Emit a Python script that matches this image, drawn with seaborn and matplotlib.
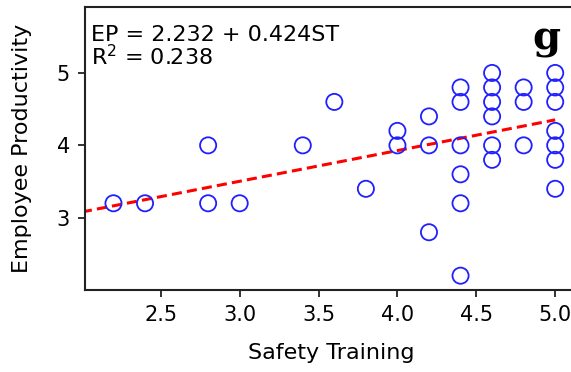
import numpy as np
import pandas as pd
import matplotlib
matplotlib.use("Agg")
import matplotlib.pyplot as plt
import seaborn as sns

# Data
safety_training = [2.2, 2.4, 2.8, 2.8, 3.0, 3.4, 3.6, 3.8,
                   4.0, 4.0,
                   4.2, 4.2, 4.2,
                   4.4, 4.4, 4.4, 4.4, 4.4, 4.4,
                   4.6, 4.6, 4.6, 4.6, 4.6, 4.6,
                   4.8, 4.8, 4.8,
                   5.0, 5.0, 5.0, 5.0, 5.0, 5.0, 5.0]
employee_productivity = [3.2, 3.2, 4.0, 3.2, 3.2, 4.0, 4.6, 3.4,
                         4.2, 4.0,
                         4.4, 4.0, 2.8,
                         4.8, 4.6, 4.0, 3.6, 3.2, 2.2,
                         5.0, 4.8, 4.6, 4.4, 4.0, 3.8,
                         4.8, 4.6, 4.0,
                         5.0, 4.8, 4.6, 4.2, 4.0, 3.8, 3.4]
intercept = 2.232
slope = 0.424
r_squared = 0.238
fit_x_range = [2.0, 5.0]
panel_label = "g"

df = pd.DataFrame({"ST": safety_training, "EP": employee_productivity})

sns.set_style("ticks")
plt.rcParams["font.family"] = ["DejaVu Sans"]
plt.rcParams["text.color"] = "black"
plt.rcParams["axes.labelcolor"] = "black"
plt.rcParams["xtick.color"] = "black"
plt.rcParams["ytick.color"] = "black"

fig = plt.figure(figsize=(5.71, 3.72), dpi=100)
ax = fig.add_axes([0.149, 0.220, 0.862, 0.761])

sns.scatterplot(data=df, x="ST", y="EP", ax=ax, marker="o", s=135,
                facecolor="none", edgecolor="#2020ff", linewidth=1.3, zorder=3)

fx = np.array(fit_x_range)
ax.plot(fx, intercept + slope * fx, color="red", linestyle="--",
        linewidth=2.2, dashes=(3.3, 1.7), zorder=2)

ax.set_xlim(2.02, 5.14)
ax.set_ylim(2.0, 5.91)
ax.set_xticks([2.5, 3.0, 3.5, 4.0, 4.5, 5.0])
ax.set_yticks([3, 4, 5])
ax.tick_params(labelsize=15, length=5, width=1.3, color="#222222", pad=6)
for s in ax.spines.values():
    s.set_linewidth(1.5)
    s.set_color("#222222")

ax.set_xlabel("Safety Training", fontsize=16, labelpad=13)
ax.set_ylabel("Employee Productivity", fontsize=16, labelpad=18)

ax.text(0.013, 0.935,
        f"EP = {intercept:.3f} + {slope:.3f}ST\nR$^2$ = {r_squared:.3f}",
        transform=ax.transAxes, fontsize=16, va="top", ha="left",
        linespacing=0.92)
ax.text(0.937, 0.955, panel_label, transform=ax.transAxes, fontsize=29,
        fontweight="bold", family="DejaVu Serif", va="top", ha="center")

fig.savefig("out.png", dpi=100)
